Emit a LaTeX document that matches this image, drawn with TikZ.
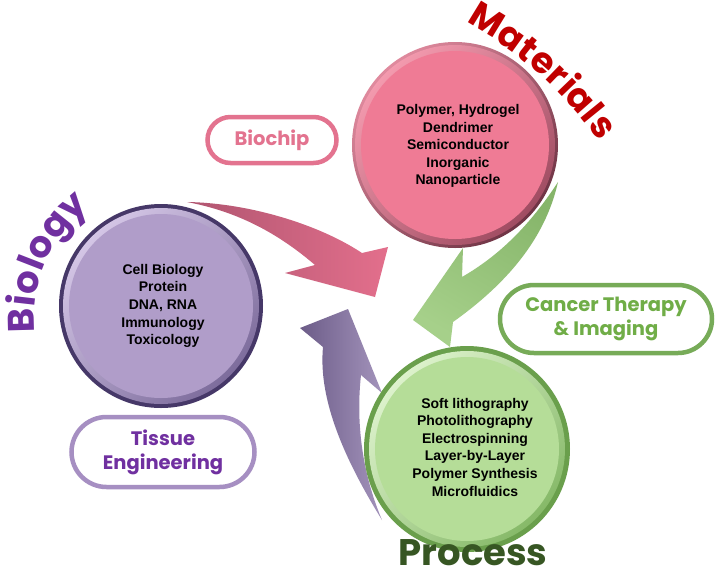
\documentclass[tikz,border=0pt]{standalone}
\usepackage{fontspec}
\setmainfont{Liberation Sans}
\newfontfamily\labelfont{Poppins}
\definecolor{matred}{HTML}{C00000}
\definecolor{biopurple}{HTML}{7030A0}
\definecolor{procgreen}{HTML}{375623}
\definecolor{pinkmain}{HTML}{EF7B95}
\definecolor{pinkbevL}{HTML}{F39AAE}
\definecolor{pinkbevD}{HTML}{A04C62}
\definecolor{pinkedgeL}{HTML}{E08A9E}
\definecolor{pinkedgeD}{HTML}{6E3344}
\definecolor{purmain}{HTML}{B09DC9}
\definecolor{purbevL}{HTML}{D4C6E6}
\definecolor{purbevD}{HTML}{7D6C9C}
\definecolor{puredge}{HTML}{463868}
\definecolor{grnmain}{HTML}{B5DD98}
\definecolor{grnbevL}{HTML}{DDF2CC}
\definecolor{grnbevD}{HTML}{86B968}
\definecolor{grnedge}{HTML}{6A9F4C}
\definecolor{arrpink}{HTML}{E36F8C}
\definecolor{arrpinkD}{HTML}{B05570}
\definecolor{arrgreen}{HTML}{A6D08A}
\definecolor{arrgreenD}{HTML}{86B56A}
\definecolor{arrpur}{HTML}{A393BB}
\definecolor{arrpurD}{HTML}{6C5C88}
\definecolor{capPink}{HTML}{E3738F}
\definecolor{capGreenLine}{HTML}{77AB58}
\definecolor{capGreenText}{HTML}{70AD47}
\definecolor{capPurLine}{HTML}{A68FC2}
\begin{document}
\begin{tikzpicture}[x=1pt,y=-1pt,
  circtext/.style={align=center, font=\bfseries\fontsize{14}{17.6}\selectfont, text=black, inner sep=0pt},
  capsule/.style={line width=4.5pt, align=center, inner sep=0pt, font=\labelfont\bfseries\fontsize{19.5}{24}\selectfont},
  matletter/.style={anchor=base, inner sep=0pt, text=matred, font=\labelfont\bfseries\fontsize{36}{36}\selectfont},
  bioletter/.style={anchor=base, inner sep=0pt, text=biopurple, font=\labelfont\bfseries\fontsize{37}{37}\selectfont},
  bigword/.style={anchor=base, inner sep=0pt, font=\labelfont\bfseries\fontsize{37}{37}\selectfont}]
\useasboundingbox (0,0) rectangle (718,574);
\fill[white] (0,0) rectangle (718,574);

% curved arrows
\shade[left color=arrpinkD, right color=arrpink]
  (187,202) .. controls (250,203) and (320,225) .. (362,253) -- (388,247) -- (375,297)
  -- (285,273) -- (315,265) .. controls (280,235) and (240,212) .. cycle;
\shade[top color=arrgreenD, bottom color=arrgreen, shading angle=-30]
  (558,182) .. controls (530,225) and (500,255) .. (462,277) -- (463,248) -- (413,320)
  -- (450,347) -- (453,322) .. controls (505,285) and (545,240) .. cycle;
\shade[left color=arrpurD, right color=arrpur]
  (382,520) .. controls (345,460) and (318,400) .. (323,347) -- (300,328) -- (348,309)
  -- (382,393) -- (361,375) .. controls (355,430) and (365,480) .. cycle;

% Materials ball
\shade[top color=pinkedgeL, bottom color=pinkedgeD, shading angle=45] (455,145) circle (103);
\shade[top color=pinkbevL, bottom color=pinkbevD, shading angle=45] (455,145) circle (100);
\fill[pinkmain] (455,145) circle (94);
% Biology ball
\fill[puredge] (161,306) circle (102);
\shade[top color=purbevL, bottom color=purbevD, shading angle=45] (161,306) circle (98);
\fill[purmain] (161,306) circle (92);
% Process ball
\fill[grnedge] (467,449) circle (103);
\shade[top color=grnbevL, bottom color=grnbevD, shading angle=45] (467,449) circle (98);
\fill[grnmain] (467,449) circle (92);

\node[circtext] (mattext) at (458,146) {Polymer, Hydrogel\\Dendrimer\\Semiconductor\\Inorganic\\Nanoparticle};
\node[circtext] (biotext) at (163,306) {Cell Biology\\Protein\\DNA, RNA\\Immunology\\Toxicology};
\node[circtext] (proctext) at (475,447) {Soft lithography\\Photolithography\\Electrospinning\\Layer-by-Layer\\Polymer Synthesis\\Microfluidics};

% capsules
\node[capsule, draw=capPink, text=capPink, minimum width=129pt, minimum height=46pt, rounded corners=23pt] (biochip) at (272,140) {Biochip};
\node[capsule, draw=capGreenLine, text=capGreenText, minimum width=212pt, minimum height=68pt, rounded corners=34pt] (cancer) at (606,319) {Cancer Therapy\\\& Imaging};
\node[capsule, draw=capPurLine, text=biopurple, minimum width=183pt, minimum height=70pt, rounded corners=35pt] (tissue) at (163,452) {Tissue\\Engineering};

% Materials arched word
\foreach \a/\c [count=\i] in {-58.6/M,-54.4/a,-51.6/t,-48.8/e,-46.0/r,-43.9/i,-41.5/a,-39.0/l,-36.6/s}
  \node[matletter, rotate={-(\a)-90}] (mat\i) at ({272+400*cos(\a)},{372+400*sin(\a)}) {\c};
% Biology arched word
\foreach \a/\c [count=\i] in {178.5/B,186.5/i,193.8/o,201.2/l,208.6/o,218.7/g,228.8/y}
  \node[bioletter, rotate={270-(\a)}] (bio\i) at ({170+136*cos(\a)},{317+136*sin(\a)}) {\c};
% Process word
\node[bigword, text=procgreen] (process) at (473,565) {Process};
\end{tikzpicture}
\end{document}
